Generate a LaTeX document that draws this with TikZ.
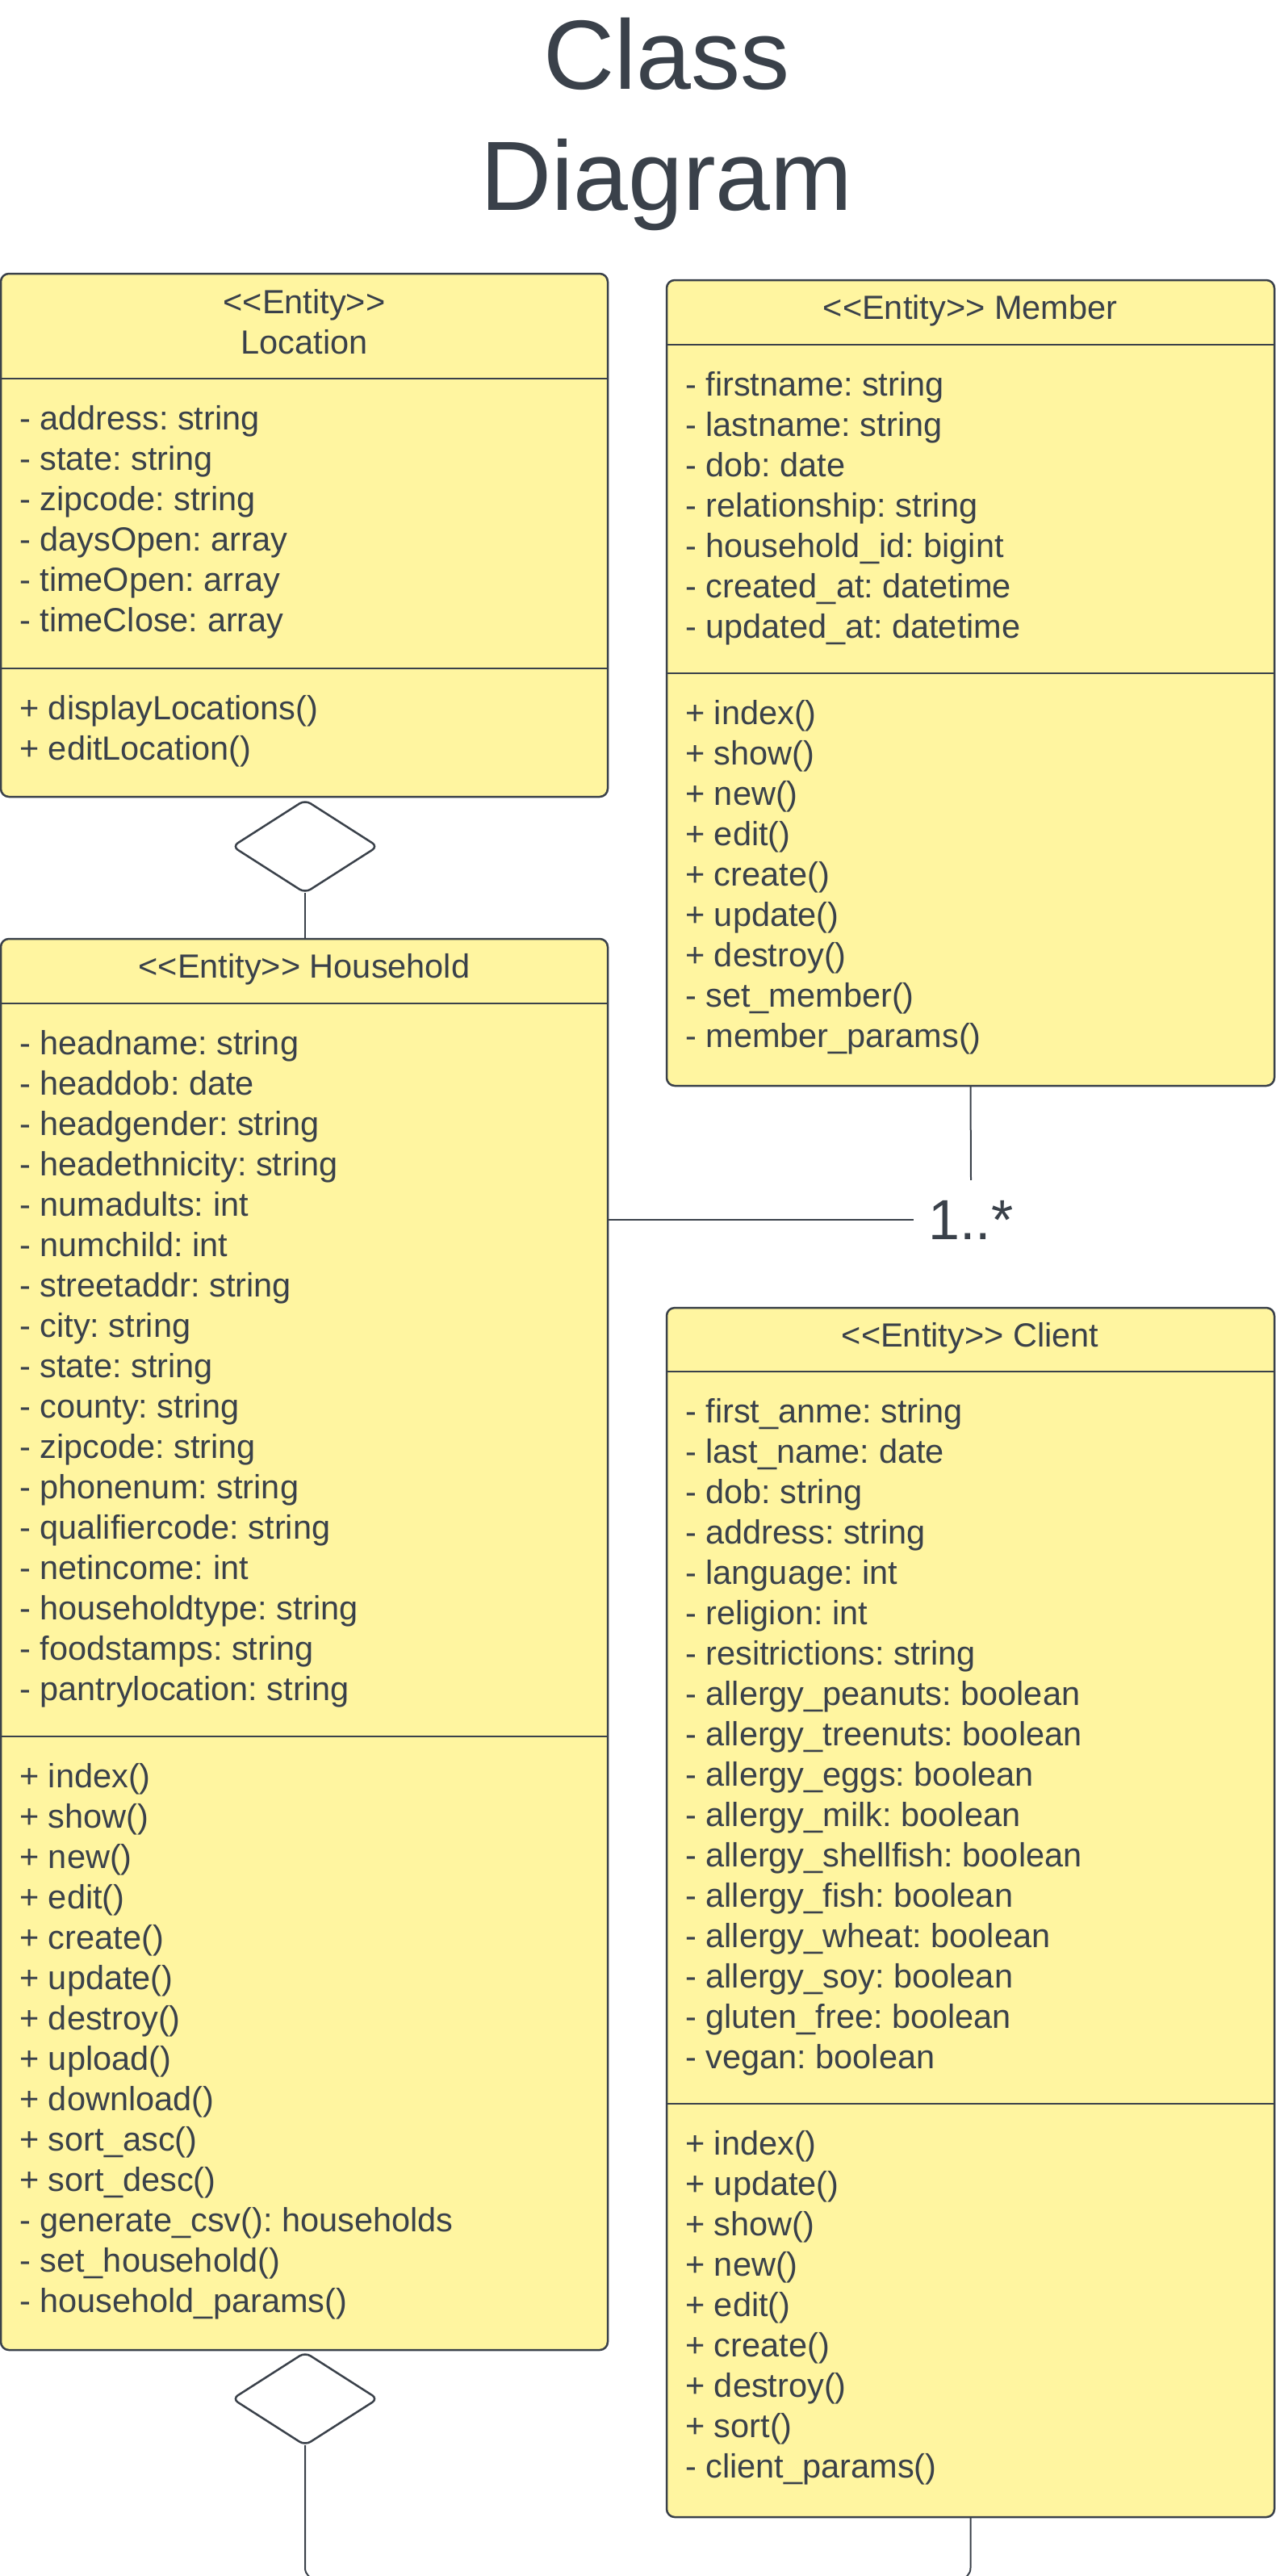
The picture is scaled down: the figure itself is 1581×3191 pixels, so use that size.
\documentclass[tikz,border=0pt]{standalone}
\usepackage{fontspec}
\setmainfont{Liberation Sans}[Ligatures=TeXOff]
\usetikzlibrary{shapes.geometric}
\definecolor{ink}{HTML}{3A414A}
\definecolor{note}{HTML}{FFF5A0}
\frenchspacing
\begin{document}
\begin{tikzpicture}[x=1pt,y=-1pt,
  classbox/.style={draw=ink, fill=note, line width=2.5pt, rounded corners=10pt, inner sep=0pt, outer sep=0pt, rectangle},
  sepline/.style={draw=ink, line width=2.5pt},
  conn/.style={draw=ink, line width=2pt},
  txt/.style={text=ink, inner sep=0pt, anchor=base west, font=\fontsize{41.5}{50}\selectfont},
  head/.style={text=ink, inner sep=0pt, anchor=base, font=\fontsize{41.5}{50}\selectfont},
  titletxt/.style={text=ink, inner sep=0pt, anchor=base, font=\fontsize{122}{146}\selectfont},
  agg/.style={diamond, draw=ink, fill=white, line width=2.5pt, inner sep=0pt, outer sep=0pt, minimum width=180pt, minimum height=115pt, aspect=1.56, rounded corners=8pt},
  mult/.style={text=ink, inner sep=0pt, minimum width=142pt, minimum height=98pt, font=\fontsize{70}{84}\selectfont}]
\useasboundingbox (0,0) rectangle (1581,3191);

% title
\node[titletxt] (t1) at (826,110) {Class};
\node[titletxt] (t2) at (826,260) {Diagram};

% boxes
\node[classbox, minimum width=752pt, minimum height=648pt] (loc) at (377,663) {};
\node[classbox, minimum width=753pt, minimum height=998pt] (mem) at (1202.5,846) {};
\node[classbox, minimum width=752pt, minimum height=1748pt] (hh) at (377,2037) {};
\node[classbox, minimum width=753pt, minimum height=1498pt] (cl) at (1202.5,2369) {};

% compartment lines
\draw[sepline] (loc.west |- 0,469) -- (loc.east |- 0,469);
\draw[sepline] (loc.west |- 0,828) -- (loc.east |- 0,828);
\draw[sepline] (mem.west |- 0,427) -- (mem.east |- 0,427);
\draw[sepline] (mem.west |- 0,834) -- (mem.east |- 0,834);
\draw[sepline] (hh.west |- 0,1243) -- (hh.east |- 0,1243);
\draw[sepline] (hh.west |- 0,2151) -- (hh.east |- 0,2151);
\draw[sepline] (cl.west |- 0,1699) -- (cl.east |- 0,1699);
\draw[sepline] (cl.west |- 0,2606) -- (cl.east |- 0,2606);

% headers
\node[head] (loch1) at (377,388) {<<Entity>>};
\node[head] (loch2) at (377,438) {Location};
\node[head] (memh) at (1202,395) {<<Entity>> Member};
\node[head] (hhh) at (377,1211) {<<Entity>> Household};
\node[head] (clh) at (1202,1668) {<<Entity>> Client};

% Location
\foreach \t [count=\i] in {- address: string, - state: string, - zipcode: string, - daysOpen: array, - timeOpen: array, - timeClose: array}
  \node[txt] (loca\i) at (24,{532+50*(\i-1)}) {\t};
\foreach \t [count=\i] in {+ displayLocations(), + editLocation()}
  \node[txt] (locm\i) at (24,{891+50*(\i-1)}) {\t};

% Member
\foreach \t [count=\i] in {- firstname: string, - lastname: string, - dob: date, - relationship: string, - household\_id: bigint, - created\_at: datetime, - updated\_at: datetime}
  \node[txt] (mema\i) at (849,{490+50*(\i-1)}) {\t};
\foreach \t [count=\i] in {+ index(), + show(), + new(), + edit(), + create(), + update(), + destroy(), - set\_member(), - member\_params()}
  \node[txt] (memm\i) at (849,{897+50*(\i-1)}) {\t};

% Household
\foreach \t [count=\i] in {- headname: string, - headdob: date, - headgender: string, - headethnicity: string, - numadults: int, - numchild: int, - streetaddr: string, - city: string, - state: string, - county: string, - zipcode: string, - phonenum: string, - qualifiercode: string, - netincome: int, - householdtype: string, - foodstamps: string, - pantrylocation: string}
  \node[txt] (hha\i) at (24,{1306+50*(\i-1)}) {\t};
\foreach \t [count=\i] in {+ index(), + show(), + new(), + edit(), + create(), + update(), + destroy(), + upload(), + download(), + sort\_asc(), + sort\_desc(), - generate\_csv(): households, - set\_household(), - household\_params()}
  \node[txt] (hhm\i) at (24,{2214+50*(\i-1)}) {\t};

% Client
\foreach \t [count=\i] in {- first\_anme: string, - last\_name: date, - dob: string, - address: string, - language: int, - religion: int, - resitrictions: string, - allergy\_peanuts: boolean, - allergy\_treenuts: boolean, - allergy\_eggs: boolean, - allergy\_milk: boolean, - allergy\_shellfish: boolean, - allergy\_fish: boolean, - allergy\_wheat: boolean, - allergy\_soy: boolean, - gluten\_free: boolean, - vegan: boolean}
  \node[txt] (cla\i) at (849,{1762+50*(\i-1)}) {\t};
\foreach \t [count=\i] in {+ index(), + update(), + show(), + new(), + edit(), + create(), + destroy(), + sort(), - client\_params()}
  \node[txt] (clm\i) at (849,{2669+50*(\i-1)}) {\t};

% aggregation diamonds
\node[agg] (d1) at (378,1048.5) {};
\node[agg] (d2) at (378,2971.5) {};

% connectors
\draw[conn] (d1.south) -- (d1.south |- hh.north);
\draw[conn, rounded corners=14pt] (d2.south) -- ++(0,166) -| (cl.south);

\node[mult] (m) at (1203,1511) {1..*};
\draw[conn] (hh.east |- m.west) -- (m.west);
\draw[conn] (m.north) -- (mem.south);
\end{tikzpicture}
\end{document}
